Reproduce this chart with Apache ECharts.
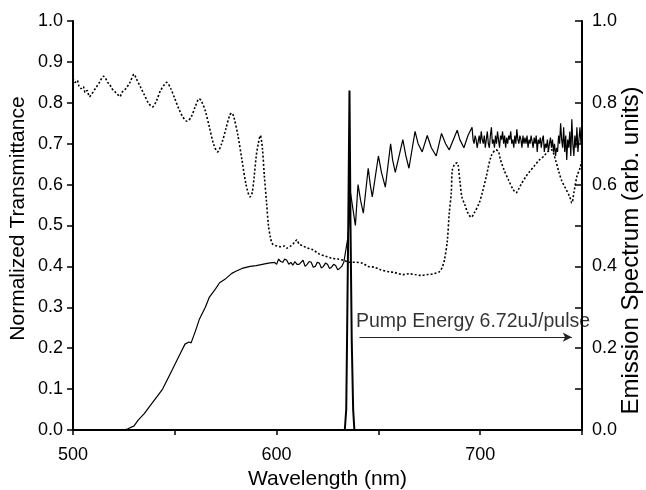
<!DOCTYPE html>
<html><head><meta charset="utf-8">
<script src="https://cdn.jsdelivr.net/npm/echarts@6/dist/echarts.min.js"></script>
<style>html,body{margin:0;padding:0;background:#fff}#c{width:646px;height:490px}</style>
</head><body><div id="c"></div>
<script>
// Solid curve: normalized transmittance (sample A)
const solidX = [525,527,530,532,535,538,541,544,546,549,551,553,555,557,558,560,562,565,567,570,572,575,578,580,583,587,590,593,596,
  599,600,601,602,603,604,605,606,607,608,609,610,611,612,613,614,615,616,617,618,619,620,621,622,623,624,625,626,627,628,629,630,631,632,633,634,635,635.8,636.3,637.5,638.7,640,641.3,642.6,645,646,647,650,651.5,653.4,656,657,658.3,662,663.5,665,668,669.5,671.5,674,676,678.4,681,683,684.8,688.7,690,692,694,
  696,696.5,697,697.5,698,698.5,699,699.5,700,700.5,701,701.5,702,702.5,703,703.5,704,704.5,705,705.5,706,706.5,707,707.5,708,708.5,709,709.5,710,710.5,711,711.5,712,712.5,713,713.5,714,714.5,715,715.5,716,716.5,717,717.5,718,718.5,719,719.5,720,720.5,721,721.5,722,722.5,723,723.5,724,724.5,725,725.5,726,726.5,727,727.5,728,728.5,729,729.5,730,730.5,731,731.5,732,732.5,733,733.5,734,734.5,735,735.5,736,736.5,737,737.5,738,738.5,739,739.5,740,740.5,741,741.5,742,742.5,743,743.5,744,744.5,745,745.5,746,746.5,747,747.5,748,748.5,749,749.5,750];
const solidY = [0,0.003,0.01,0.024,0.04,0.06,0.08,0.10,0.12,0.15,0.17,0.19,0.21,0.215,0.213,0.24,0.27,0.30,0.325,0.345,0.36,0.37,0.383,0.388,0.395,0.40,0.402,0.405,0.408,
  0.41,0.405,0.418,0.412,0.41,0.418,0.415,0.405,0.41,0.403,0.412,0.405,0.405,0.41,0.415,0.40,0.405,0.412,0.41,0.398,0.40,0.41,0.408,0.396,0.40,0.408,0.405,0.395,0.398,0.405,0.402,0.392,0.395,0.40,0.41,0.44,0.47,0.52,0.58,0.54,0.50,0.60,0.56,0.53,0.64,0.60,0.57,0.67,0.63,0.594,0.70,0.66,0.63,0.71,0.67,0.64,0.73,0.70,0.68,0.72,0.69,0.67,0.725,0.70,0.685,0.733,0.71,0.69,0.72,
  0.74,0.71,0.70,0.72,0.71,0.69,0.705,0.72,0.70,0.73,0.71,0.70,0.72,0.69,0.71,0.73,0.70,0.69,0.72,0.74,0.70,0.71,0.69,0.72,0.70,0.73,0.71,0.69,0.72,0.71,0.73,0.70,0.72,0.69,0.715,0.70,0.72,0.71,0.73,0.70,0.71,0.69,0.72,0.70,0.735,0.71,0.70,0.72,0.71,0.69,0.72,0.70,0.715,0.70,0.72,0.69,0.71,0.70,0.72,0.705,0.69,0.715,0.70,0.72,0.68,0.71,0.70,0.715,0.69,0.71,0.72,0.68,0.70,0.69,0.71,0.68,0.70,0.715,0.69,0.71,0.68,0.70,0.67,0.69,0.68,0.72,0.70,0.75,0.71,0.69,0.74,0.68,0.72,0.66,0.71,0.69,0.73,0.67,0.76,0.70,0.67,0.72,0.69,0.74,0.68,0.71,0.74,0.70,0.72];

// Dotted curve: normalized transmittance (sample B)
const dotX = [500,501,502,503,504,505,506,507,508,509,511,513,515,516,517,518,519,520,521,522,523,524,526,528,530,531,533,535,537,539,541,543,545,546,548,550,552,554,556,558,560,562,563,565,567,569,571,573,575,577,578,579,581,583,585,587,588,589,590,591,592,593,594,595,596,597,598,600,602,604,605,607,609,610,611,613,615,618,621,624,627,630,633,636,639,642,645,648,651,655,658,662,665,668,671,674,677,680,681.5,682.4,683.8,684.8,685.8,686.3,687.5,688.7,690,691,692.5,694,695.6,697,699.5,701,703,705.4,707.8,709,710,711.8,714,716,717.6,719,720,722.5,724,726.5,729,731.4,733,735,737,738.7,740,742,744,745,746,747.5,749,750];
const dotY = [0.86,0.85,0.855,0.84,0.835,0.84,0.825,0.83,0.815,0.82,0.835,0.85,0.865,0.86,0.85,0.845,0.835,0.83,0.825,0.82,0.815,0.825,0.835,0.85,0.87,0.86,0.84,0.82,0.80,0.79,0.805,0.83,0.845,0.85,0.835,0.81,0.785,0.765,0.755,0.765,0.79,0.81,0.805,0.78,0.74,0.70,0.68,0.70,0.735,0.77,0.775,0.765,0.72,0.66,0.60,0.57,0.58,0.62,0.67,0.70,0.72,0.69,0.62,0.56,0.50,0.47,0.455,0.45,0.448,0.45,0.445,0.45,0.46,0.465,0.455,0.45,0.445,0.44,0.43,0.425,0.42,0.418,0.415,0.41,0.41,0.408,0.40,0.398,0.392,0.387,0.385,0.38,0.382,0.38,0.378,0.38,0.382,0.387,0.40,0.415,0.46,0.53,0.58,0.635,0.65,0.653,0.61,0.57,0.55,0.53,0.52,0.53,0.555,0.58,0.62,0.67,0.685,0.68,0.66,0.635,0.61,0.59,0.58,0.59,0.60,0.62,0.63,0.645,0.66,0.67,0.68,0.685,0.66,0.63,0.61,0.59,0.57,0.555,0.58,0.62,0.64,0.66];

// Emission spectrum (right axis)
const emisX = [630,633.5,634.2,634.6,635.2,635.8,636.3,636.9,637.6,638.2,642];
const emisY = [0,0,0.05,0.22,0.5,0.83,0.5,0.22,0.05,0,0];

// Annotation
const noteText = 'Pump Energy 6.72uJ/pulse';
const notePos = [639, 0.264];
const arrowFrom = [640.7, 0.227];
const arrowTo = [745, 0.227];

const xTicks = [500, 600, 700];
const leftTicks = [0.0,0.1,0.2,0.3,0.4,0.5,0.6,0.7,0.8,0.9,1.0];
const rightTicks = [0.0,0.2,0.4,0.6,0.8,1.0];

const zip = (xs, ys) => xs.map((x, i) => [x, ys[i]]);
const FONT = 'Liberation Sans';
const chart = echarts.init(document.getElementById('c'), null, {renderer: 'canvas'});
const axisLine = {show: true, lineStyle: {color: '#000', width: 2}};
chart.setOption({
  animation: false,
  grid: {left: 73, right: 64, top: 21, bottom: 60, containLabel: false, outerBoundsMode: 'none'},
  xAxis: [{
    type: 'value', min: 500, max: 750, interval: 50, position: 'bottom',
    name: 'Wavelength (nm)', nameLocation: 'middle', nameGap: 39, nameMoveOverlap: false,
    nameTextStyle: {fontFamily: FONT, fontSize: 21, color: '#000'},
    axisLine: axisLine,
    axisTick: {show: true, length: 5, inside: false, lineStyle: {color: '#000', width: 1.5}},
    axisLabel: {margin: 16, fontFamily: FONT, fontSize: 18, color: '#000',
      formatter: v => xTicks.indexOf(v) >= 0 ? String(v) : ''},
    splitLine: {show: false}
  }, {
    type: 'value', min: 500, max: 750, position: 'top',
    axisLine: axisLine, axisTick: {show: false}, axisLabel: {show: false}, splitLine: {show: false}
  }],
  yAxis: [{
    type: 'value', min: 0, max: 1, interval: 0.1, position: 'left',
    name: 'Normalized Transmittance', nameLocation: 'middle', nameGap: 44, nameMoveOverlap: false,
    nameTextStyle: {fontFamily: FONT, fontSize: 21, color: '#000', padding: [0, 0, 0, 14]},
    axisLine: axisLine,
    axisTick: {show: true, length: 6, inside: false, lineStyle: {color: '#000', width: 1.5}},
    axisLabel: {margin: 10, fontFamily: FONT, fontSize: 18, color: '#000',
      formatter: v => { const r = Math.round(v * 10) / 10; return leftTicks.indexOf(r) >= 0 ? r.toFixed(1) : ''; }},
    splitLine: {show: false}
  }, {
    type: 'value', min: 0, max: 1, interval: 0.1, position: 'right',
    name: 'Emission Spectrum (arb. units)', nameLocation: 'middle', nameGap: 37, nameMoveOverlap: false,
    nameTextStyle: {fontFamily: FONT, fontSize: 24, color: '#000', padding: [0, 50, 0, 0]},
    axisLine: axisLine,
    axisTick: {show: true, length: 7, inside: true, lineStyle: {color: '#000', width: 1.5}},
    axisLabel: {margin: 10, fontFamily: FONT, fontSize: 18, color: '#000',
      formatter: v => { const r = Math.round(v * 10) / 10; return rightTicks.indexOf(r) >= 0 ? r.toFixed(1) : ''; }},
    splitLine: {show: false}
  }],
  series: [{
    type: 'line', name: 'solid', data: zip(solidX, solidY), showSymbol: false, symbol: 'none',
    lineStyle: {color: '#000', width: 1.2}, z: 3
  }, {
    type: 'line', name: 'dotted', data: zip(dotX, dotY), showSymbol: false, symbol: 'none', smooth: 0.3,
    lineStyle: {color: '#000', width: 1.6, type: [2, 2]}, z: 2
  }, {
    type: 'line', name: 'emission', yAxisIndex: 1, data: zip(emisX, emisY), showSymbol: false, symbol: 'none',
    lineStyle: {color: '#000', width: 2}, z: 4
  }, {
    type: 'scatter', name: 'note', data: [notePos], symbolSize: 0, silent: true,
    label: {show: true, position: [0, 0], align: 'left', verticalAlign: 'middle',
      formatter: noteText, fontFamily: FONT, fontSize: 19.5, color: '#000'},
    markLine: {
      silent: true, symbol: ['none', 'arrow'], symbolSize: [7, 9], label: {show: false},
      lineStyle: {color: '#222', width: 1, type: 'solid'},
      data: [[{coord: arrowFrom}, {coord: arrowTo}]]
    }
  }]
});
</script></body></html>
